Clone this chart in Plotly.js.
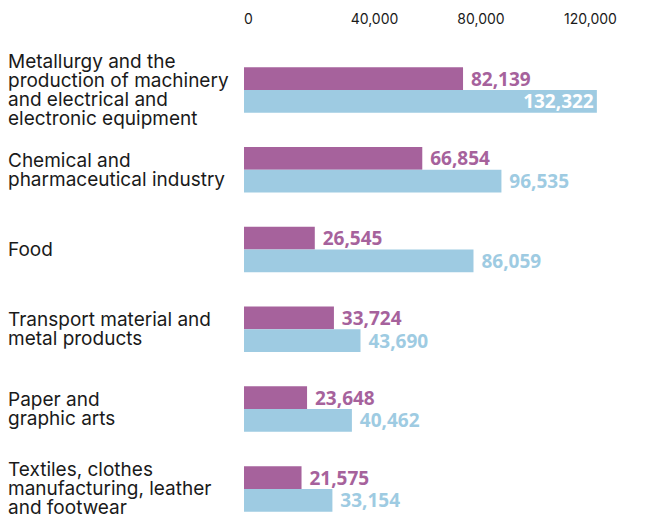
<!DOCTYPE html>
<html>
<head>
<meta charset="utf-8">
<script src="https://cdn.plot.ly/plotly-3.0.1.min.js"></script>
<style>html,body{margin:0;padding:0;background:#fff;}#chart{width:672px;height:522px;}</style>
</head>
<body>
<div id="chart"></div>
<script>
const categories = [
  "Metallurgy and the<br>production of machinery<br>and electrical and<br>electronic equipment",
  "Chemical and<br>pharmaceutical industry",
  "Food",
  "Transport material and<br>metal products",
  "Paper and<br>graphic arts",
  "Textiles, clothes<br>manufacturing, leather<br>and footwear"
];
const purpleValues = [82139, 66854, 26545, 33724, 23648, 21575];
const blueValues = [132322, 96535, 86059, 43690, 40462, 33154];
const xTickValues = [0, 40000, 80000, 120000];
const xTickLabels = ["0", "40,000", "80,000", "120,000"];

const PURPLE = "#a6629c";
const BLUE = "#9ecbe2";
const INSIDE_MIN = 120000;

function textSettings(values) {
  return {
    pos: values.map(v => v >= INSIDE_MIN ? "inside" : "outside"),
    tpl: values.map(v => v >= INSIDE_MIN ? "%{x:,}" : "\u00a0%{x:,}")
  };
}
const pt = textSettings(purpleValues);
const bt = textSettings(blueValues);

const valueFont = {family: "Open Sans", size: 19, weight: 700};

const traces = [
  {
    type: "bar", orientation: "h", name: "Purple",
    x: purpleValues, y: categories,
    marker: {color: PURPLE},
    texttemplate: pt.tpl, textposition: pt.pos,
    insidetextanchor: "end",
    insidetextfont: Object.assign({}, valueFont, {color: "#ffffff"}),
    outsidetextfont: Object.assign({}, valueFont, {color: PURPLE}),
    constraintext: "none", cliponaxis: false, hoverinfo: "skip"
  },
  {
    type: "bar", orientation: "h", name: "Blue",
    x: blueValues, y: categories,
    marker: {color: BLUE},
    texttemplate: bt.tpl, textposition: bt.pos,
    insidetextanchor: "end",
    insidetextfont: Object.assign({}, valueFont, {color: "#ffffff"}),
    outsidetextfont: Object.assign({}, valueFont, {color: BLUE}),
    constraintext: "none", cliponaxis: false, hoverinfo: "skip"
  }
];

const annotations = [];
categories.forEach(cat => {
  const lines = cat.split("<br>");
  const n = lines.length;
  lines.forEach((line, i) => {
    annotations.push({
      xref: "paper", yref: "y",
      x: 0, y: cat,
      xanchor: "left", yanchor: "middle",
      xshift: -238,
      yshift: -(i - (n - 1) / 2) * 19,
      text: line, showarrow: false, align: "left",
      font: {family: "Inter", size: 19, color: "#1a1a1a"}
    });
  });
});

const layout = {
  width: 672, height: 522,
  margin: {l: 244, r: 28, t: 50, b: 0, pad: 0},
  paper_bgcolor: "#ffffff", plot_bgcolor: "#ffffff",
  barmode: "group", bargap: 0.43, bargroupgap: 0,
  showlegend: false,
  hovermode: false,
  xaxis: {
    side: "top", range: [0, 150000],
    tickvals: xTickValues, ticktext: xTickLabels,
    ticks: "", showgrid: false, zeroline: false, showline: false,
    ticklabelposition: "outside right",
    ticklabelstandoff: 22,
    tickfont: {family: "Inter", size: 14, color: "#1a1a1a"}
  },
  yaxis: {
    type: "category", categoryorder: "array", categoryarray: categories,
    range: [5.415, -0.5],
    showticklabels: false, ticks: "", showgrid: false, zeroline: false, showline: false
  },
  annotations: annotations
};

Plotly.newPlot("chart", traces, layout, {displayModeBar: false, staticPlot: true});
</script>
</body>
</html>
